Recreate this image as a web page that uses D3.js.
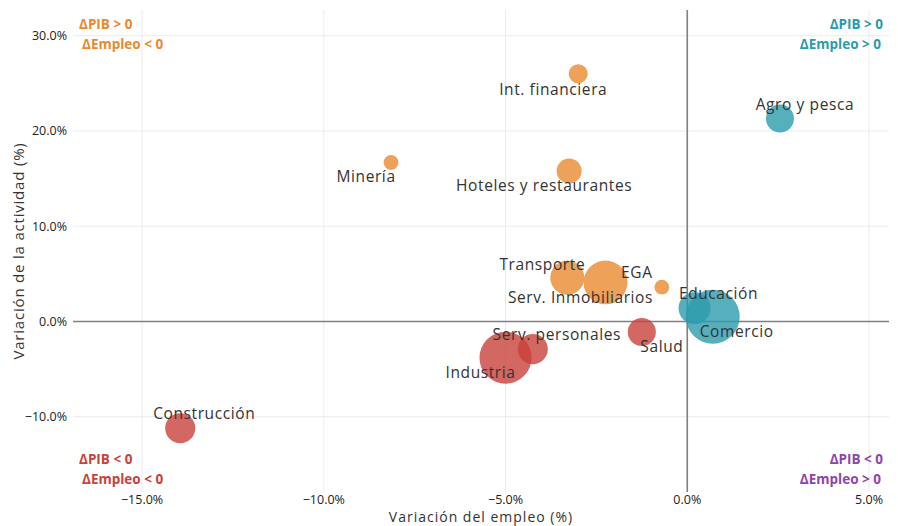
<!DOCTYPE html>
<html>
<head>
<meta charset="utf-8">
<script src="https://cdn.jsdelivr.net/npm/d3@7"></script>
<style>
  body { margin: 0; background: #fff; }
  svg text { font-family: "Open Sans", "DejaVu Sans", sans-serif; }
</style>
</head>
<body>
<div id="chart"></div>
<script>
// Sectores y sus variaciones (%)
const sectores = ["Int. financiera", "Agro y pesca", "Minería", "Hoteles y restaurantes",
  "Transporte", "Serv. Inmobiliarios", "EGA", "Educación", "Comercio", "Salud",
  "Serv. personales", "Industria", "Construcción"];
const varEmpleo = [-3.0, 2.55, -8.15, -3.25, -3.3, -2.25, -0.7, 0.2, 0.7, -1.25, -4.25, -5.0, -13.95];
const varActividad = [26.0, 21.3, 16.7, 15.8, 4.6, 4.1, 3.6, 1.4, 0.5, -1.1, -2.9, -3.8, -11.2];
const peso = [1.25, 2.7, 0.75, 2.15, 4.0, 6.6, 0.75, 3.5, 10.0, 2.7, 3.1, 9.3, 3.1];

const xTicks = [-15, -10, -5, 0, 5];
const yTicks = [-10, 0, 10, 20, 30];

// desplazamiento de etiquetas (px) respecto del punto, tipo ggrepel
const labelNudge = {
  "Int. financiera": [-25, 16], "Agro y pesca": [25, -14], "Minería": [-25, 15],
  "Hoteles y restaurantes": [-25, 15], "Transporte": [-25, -13], "Serv. Inmobiliarios": [-25, 16],
  "EGA": [-25, -14], "Educación": [24, -14], "Comercio": [24, 15], "Salud": [20, 15],
  "Serv. personales": [24, -14], "Industria": [-25, 15], "Construcción": [24, -14]
};

const colores = { q1: "#2a9bab", q2: "#e8892f", q3: "#c8413a", q4: "#8e44ad" };

const W = 898, H = 526;
const x = d3.scaleLinear().domain([-16.9, 5.55]).range([73, 889]);
const y = d3.scaleLinear().domain([-17.9, 32.7]).range([492, 10]);
const r = d3.scaleSqrt().domain([0, d3.max(peso)]).range([0, 27]);

const data = sectores.map((s, i) => ({ name: s, x: varEmpleo[i], y: varActividad[i], w: peso[i] }));
const quad = d => d.y >= 0 ? (d.x >= 0 ? "q1" : "q2") : (d.x >= 0 ? "q4" : "q3");

const svg = d3.select("#chart").append("svg").attr("width", W).attr("height", H);

// grilla
const grid = svg.append("g");
grid.selectAll(".gx").data(xTicks).join("line")
  .attr("x1", d => x(d)).attr("x2", d => x(d))
  .attr("y1", y.range()[1]).attr("y2", y.range()[0])
  .attr("stroke", "#ebebeb").attr("stroke-width", 1);
grid.selectAll(".gy").data(yTicks).join("line")
  .attr("y1", d => y(d)).attr("y2", d => y(d))
  .attr("x1", x.range()[0]).attr("x2", x.range()[1])
  .attr("stroke", "#ebebeb").attr("stroke-width", 1);

// ejes en cero
svg.append("line").attr("x1", x.range()[0]).attr("x2", x.range()[1])
  .attr("y1", y(0)).attr("y2", y(0)).attr("stroke", "#808080").attr("stroke-width", 1.6);
svg.append("line").attr("x1", x(0)).attr("x2", x(0))
  .attr("y1", y.range()[1]).attr("y2", y.range()[0]).attr("stroke", "#808080").attr("stroke-width", 1.6);

// etiquetas de ticks
const fmt = d => d.toFixed(1).replace("-", "\u2212") + "%";
svg.append("g").selectAll("text").data(xTicks).join("text")
  .attr("x", d => x(d)).attr("y", 504).attr("text-anchor", "middle")
  .attr("font-size", 12.5).attr("fill", "#222").text(fmt);
svg.append("g").selectAll("text").data(yTicks).join("text")
  .attr("x", 67).attr("y", d => y(d) + 4.5).attr("text-anchor", "end")
  .attr("font-size", 12.5).attr("fill", "#222").text(fmt);

// títulos
svg.append("text").attr("x", (x.range()[0] + x.range()[1]) / 2).attr("y", 522)
  .attr("text-anchor", "middle").attr("font-size", 14).attr("letter-spacing", 1).attr("fill", "#333")
  .text("Variación del empleo (%)");
svg.append("text").attr("transform", `translate(24,${(y.range()[0] + y.range()[1]) / 2}) rotate(-90)`)
  .attr("text-anchor", "middle").attr("font-size", 15).attr("letter-spacing", 0.8).attr("fill", "#333")
  .text("Variación de la actividad (%)");

// burbujas
svg.append("g").selectAll("circle").data(data).join("circle")
  .attr("cx", d => x(d.x)).attr("cy", d => y(d.y)).attr("r", d => r(d.w))
  .attr("fill", d => colores[quad(d)]).attr("fill-opacity", 0.8);

// etiquetas de sectores
svg.append("g").selectAll("text").data(data).join("text")
  .attr("x", d => x(d.x) + labelNudge[d.name][0])
  .attr("y", d => y(d.y) + labelNudge[d.name][1] + 5)
  .attr("text-anchor", "middle").attr("font-size", 15.5).attr("letter-spacing", 0.6).attr("fill", "#333")
  .text(d => d.name);

// etiquetas de cuadrantes
const quadLabels = [
  { t: ["\u0394PIB > 0", "\u0394Empleo < 0"], c: colores.q2, side: "left", top: true },
  { t: ["\u0394PIB > 0", "\u0394Empleo > 0"], c: colores.q1, side: "right", top: true },
  { t: ["\u0394PIB < 0", "\u0394Empleo < 0"], c: colores.q3, side: "left", top: false },
  { t: ["\u0394PIB < 0", "\u0394Empleo > 0"], c: colores.q4, side: "right", top: false }
];
quadLabels.forEach(q => {
  q.t.forEach((t, i) => {
    const px = q.side === "left" ? x.range()[0] + 6 + i * 3 : x.range()[1] - 6 - i * 2;
    const py = q.top ? y.range()[1] + 19 + i * 20 : y.range()[0] - 28 + i * 20;
    svg.append("text").attr("x", px).attr("y", py)
      .attr("text-anchor", q.side === "left" ? "start" : "end")
      .attr("font-size", 13.5).attr("font-weight", "bold").attr("fill", q.c)
      .text(t);
  });
});
</script>
</body>
</html>
